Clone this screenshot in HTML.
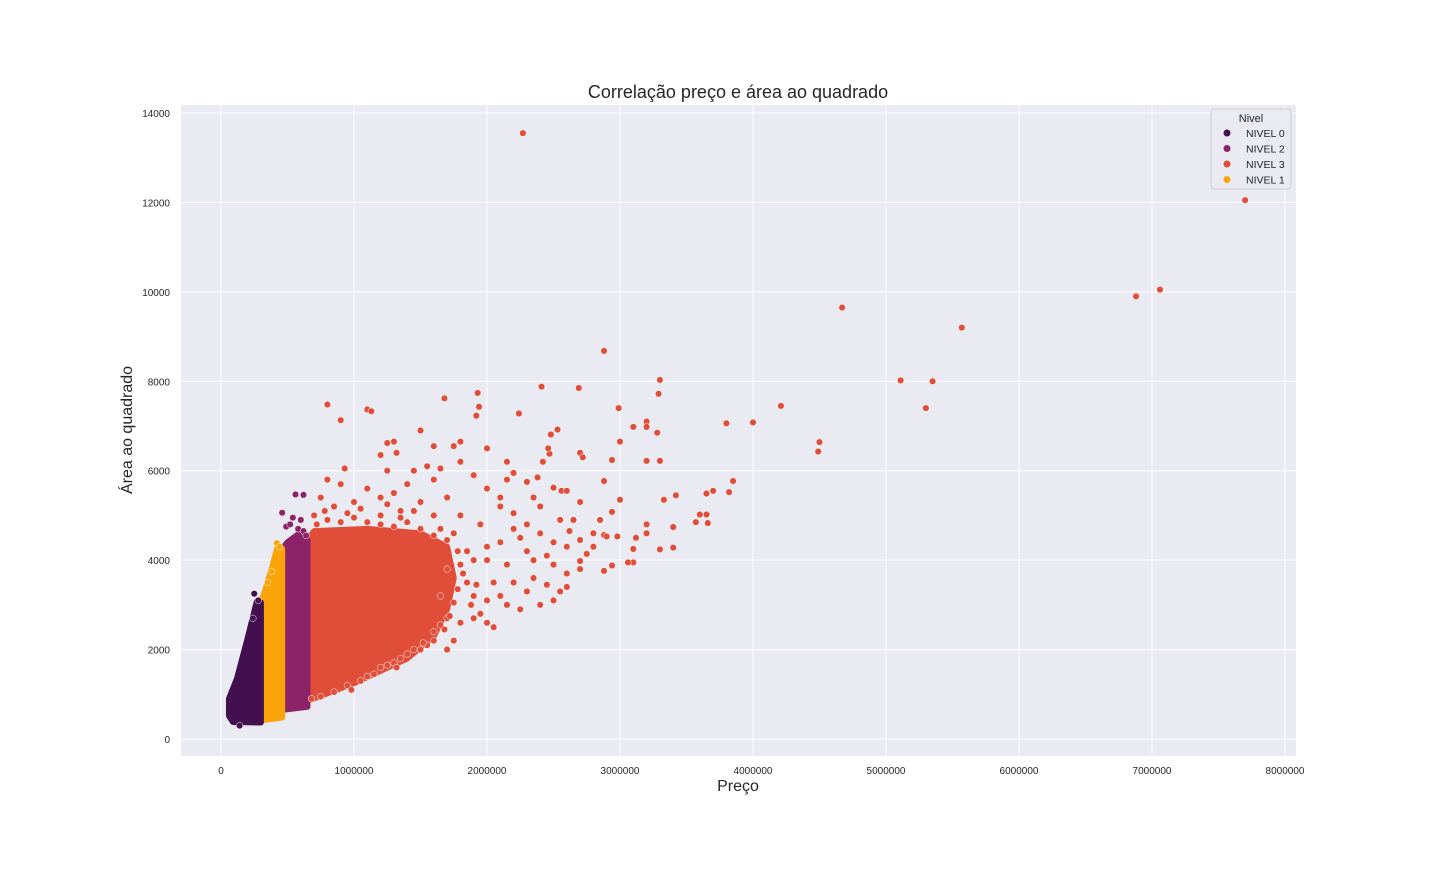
<!DOCTYPE html>
<html><head><meta charset="utf-8">
<style>
body{margin:0;background:#fff;font-family:"Liberation Sans",Arial,sans-serif}
svg text{font-family:"Liberation Sans",Arial,sans-serif}
</style></head>
<body>
<svg id="chart" width="1440" height="864" xmlns="http://www.w3.org/2000/svg">
<rect x="0" y="0" width="1440" height="864" fill="#fff"/>
<rect x="181" y="105" width="1115" height="651" fill="#eaeaf2"/>
<g id="grid"></g>
<g id="regions"></g>
<g id="points"></g>
<g id="ticks"></g>
<text x="738" y="98" text-anchor="middle" font-size="18" fill="#262626">Correlação preço e área ao quadrado</text>
<text x="738" y="791" text-anchor="middle" font-size="16" fill="#262626">Preço</text>
<text transform="translate(132,430) rotate(-90)" text-anchor="middle" font-size="16" fill="#262626">Área ao quadrado</text>
<g>
<rect x="1211" y="109" width="80" height="80" rx="3" fill="#eaeaf2" stroke="#cccccc" stroke-width="1" opacity="0.9"/>
<text x="1251" y="122" text-anchor="middle" font-size="11" fill="#262626">Nivel</text>
<g id="legend-items"></g>
</g>
</svg>
<script>
const xTicks=[0,1000000,2000000,3000000,4000000,5000000,6000000,7000000,8000000];
const yTicks=[0,2000,4000,6000,8000,10000,12000,14000];
const levels=["NIVEL 0","NIVEL 2","NIVEL 3","NIVEL 1"];
const levelColors=["#420f4f","#8c2369","#e04e39","#fba40a"];
// dense-cluster envelopes [preco, area]
const regionNivel0=[[60000,520],[90000,380],[300000,370],[300000,3050],[270000,3080],[200000,2250],[120000,1350],[60000,900]];
const regionNivel1=[[300000,420],[460000,480],[460000,4250],[430000,4350],[390000,3900],[330000,3300],[300000,3050]];
const regionNivel2=[[460000,650],[650000,720],[650000,4450],[590000,4600],[500000,4400],[460000,4250]];
const regionNivel3=[[650000,850],[1000000,1250],[1400000,1800],[1600000,2300],[1700000,2900],[1750000,3600],[1700000,4300],[1500000,4600],[1100000,4700],[700000,4650],[650000,4450]];
const pointsNivel2=[[560000,5470],[620000,5460],[460000,5060],[490000,4750],[540000,4950],[600000,4900],[520000,4800],[580000,4700],[620000,4650],[640000,4550]];
const pointsNivel0=[[140000,300],[250000,3250],[280000,3100],[240000,2700]];
const pointsNivel1=[[420000,4380],[440000,4300],[380000,3750],[350000,3500]];
const pointsNivel3=[[2270000,13550],[7700000,12050],[4670000,9650],[7060000,10050],[6880000,9900],[5570000,9200],[2880000,8680],[5110000,8020],[5350000,8000],[5300000,7400],[3300000,8030],[2410000,7880],[2690000,7850],[1930000,7740],[1680000,7620],[800000,7480],[1100000,7370],[1130000,7330],[1940000,7430],[1920000,7230],[2240000,7280],[3290000,7720],[2990000,7400],[4210000,7450],[4000000,7080],[3800000,7060],[3200000,7100],[3100000,6980],[3200000,6980],[3280000,6850],[3000000,6650],[4500000,6640],[4490000,6430],[3200000,6220],[3300000,6220],[2940000,6240],[2700000,6400],[2720000,6300],[3850000,5770],[3820000,5520],[3700000,5550],[3650000,5490],[3420000,5450],[3330000,5350],[3650000,5020],[3600000,5020],[3660000,4830],[3570000,4850],[3400000,4740],[3400000,4280],[3300000,4240],[3200000,4600],[3120000,4500],[3100000,4250],[3100000,3950],[3060000,3950],[3200000,4800],[3000000,5350],[2880000,5770],[2940000,5080],[2880000,4560],[2900000,4530],[2980000,4530],[2880000,3760],[2940000,3880],[2700000,4450],[2750000,4140],[2700000,3980],[2620000,4650],[2560000,5550],[2600000,5550],[2500000,5620],[2470000,6380],[2460000,6500],[2530000,6920],[2480000,6810],[2420000,6200],[2380000,5850],[2300000,5750],[2200000,5950],[2150000,5800],[2100000,5400],[2000000,5600],[1900000,5900],[1800000,6200],[1750000,6550],[1800000,6650],[1600000,6550],[1500000,6900],[1300000,6650],[1250000,6620],[1320000,6400],[1200000,6350],[900000,7130],[930000,6050],[2000000,6500],[2100000,5200],[2200000,5050],[2300000,4800],[2400000,4600],[2500000,4400],[2200000,4700],[2100000,4400],[2000000,4300],[2300000,4200],[2500000,3900],[2600000,3700],[2550000,3300],[2450000,3450],[2400000,3000],[2300000,3300],[2200000,3500],[2100000,3200],[2000000,3100],[1900000,2700],[2000000,2600],[1950000,2800],[2050000,3500],[2150000,3900],[2350000,3600],[2450000,4100],[2600000,4300],[2400000,5200],[2550000,4900],[2650000,4900],[2700000,5300],[2800000,4600],[1700000,5400],[1600000,5800],[1650000,6050],[1400000,5700],[1300000,5500],[1200000,5400],[1000000,5300],[900000,5700],[850000,5200],[800000,5800],[1100000,5600],[1500000,5300],[1800000,5000],[1950000,4800],[2000000,4000],[1850000,3500],[1700000,2700],[1600000,2400],[1750000,2200],[1650000,3200],[1550000,2100],[1400000,1900],[1850000,4200],[1750000,4600],[1600000,5000],[1900000,3200],[1700000,3800],[1200000,5000],[1350000,5100],[1450000,6000],[1550000,6100],[1250000,6000],[700000,5000],[750000,5400],[2250000,4500],[2350000,4000],[2150000,3000],[2250000,2900],[2050000,2500],[1800000,2600],[1700000,2000],[1500000,2000],[1300000,1700],[1200000,1600],[1100000,1400],[2600000,3400],[2500000,3100],[2700000,3800],[2800000,4300],[2850000,4900],[2150000,6200],[2350000,5400],
[720000,4800],[800000,4900],[900000,4850],[1000000,4950],[1100000,4850],[1200000,4800],[1300000,4750],[1400000,4850],[1500000,4700],[1600000,4550],[1700000,4450],[1780000,4200],[1800000,3900],[1820000,3700],[1780000,3350],[1750000,3050],[1720000,2750],[1650000,2550],[1600000,2200],[1450000,2000],[1350000,1800],[1250000,1650],[1150000,1450],[1050000,1300],[950000,1200],[850000,1050],[750000,950],[680000,900],[980000,1100],[1320000,1600],[1520000,2150],[1680000,2450],[1880000,3000],[1920000,3450],[1900000,4000],[1650000,4700],[1350000,4950],[950000,5050],[780000,5100],[1050000,5150],[1250000,5250],[1450000,5100]];

const X0=221, XS=133/1000000, Y0=739, YS=626/14000;
function sx(v){return X0+v*XS;}
function sy(v){return Y0-v*YS;}
const NS="http://www.w3.org/2000/svg";
function mk(tag,attrs,parent){const e=document.createElementNS(NS,tag);for(const k in attrs)e.setAttribute(k,attrs[k]);parent.appendChild(e);return e;}

const grid=document.getElementById('grid'), ticks=document.getElementById('ticks');
xTicks.forEach(t=>{
  const l=mk('line',{x1:sx(t),x2:sx(t),y1:105,y2:756,stroke:'#fff','stroke-width':1},grid);
  
  
  const tx=mk('text',{x:sx(t),y:774,'text-anchor':'middle','font-size':10,fill:'#262626'},ticks);
  tx.textContent=String(t);
  
  
});
yTicks.forEach(t=>{
  const l=mk('line',{x1:181,x2:1296,y1:sy(t),y2:sy(t),stroke:'#fff','stroke-width':1},grid);
  
  
  const tx=mk('text',{x:170,y:sy(t)+4,'text-anchor':'end','font-size':10,fill:'#262626'},ticks);
  tx.textContent=String(t);
  
  
});

const regs=document.getElementById('regions');
[[regionNivel3,2],[regionNivel2,1],[regionNivel1,3],[regionNivel0,0]].forEach(([r,i])=>{
  const p=mk('polygon',{points:r.map(d=>sx(d[0])+','+sy(d[1])).join(' '),fill:levelColors[i],stroke:levelColors[i],'stroke-width':6,'stroke-linejoin':'round'},regs);
  
  
});
const pts=document.getElementById('points');
[[pointsNivel3,2],[pointsNivel2,1],[pointsNivel1,3],[pointsNivel0,0]].forEach(([arr,i])=>{
  arr.forEach(d=>{
    const c=mk('circle',{cx:sx(d[0]),cy:sy(d[1]),r:3.3,fill:levelColors[i],stroke:'#fff','stroke-width':0.5},pts);
    
    
  });
});
const li=document.getElementById('legend-items');
levels.forEach((n,i)=>{
  const y=133+i*15.5;
  const c=mk('circle',{cx:1227,cy:y,r:3.5,fill:levelColors[i]},li);
  
  
  const t=mk('text',{x:1246,y:y+4,'font-size':10.5,fill:'#262626'},li);
  t.textContent=n;
  
  
});
</script>
</body></html>
